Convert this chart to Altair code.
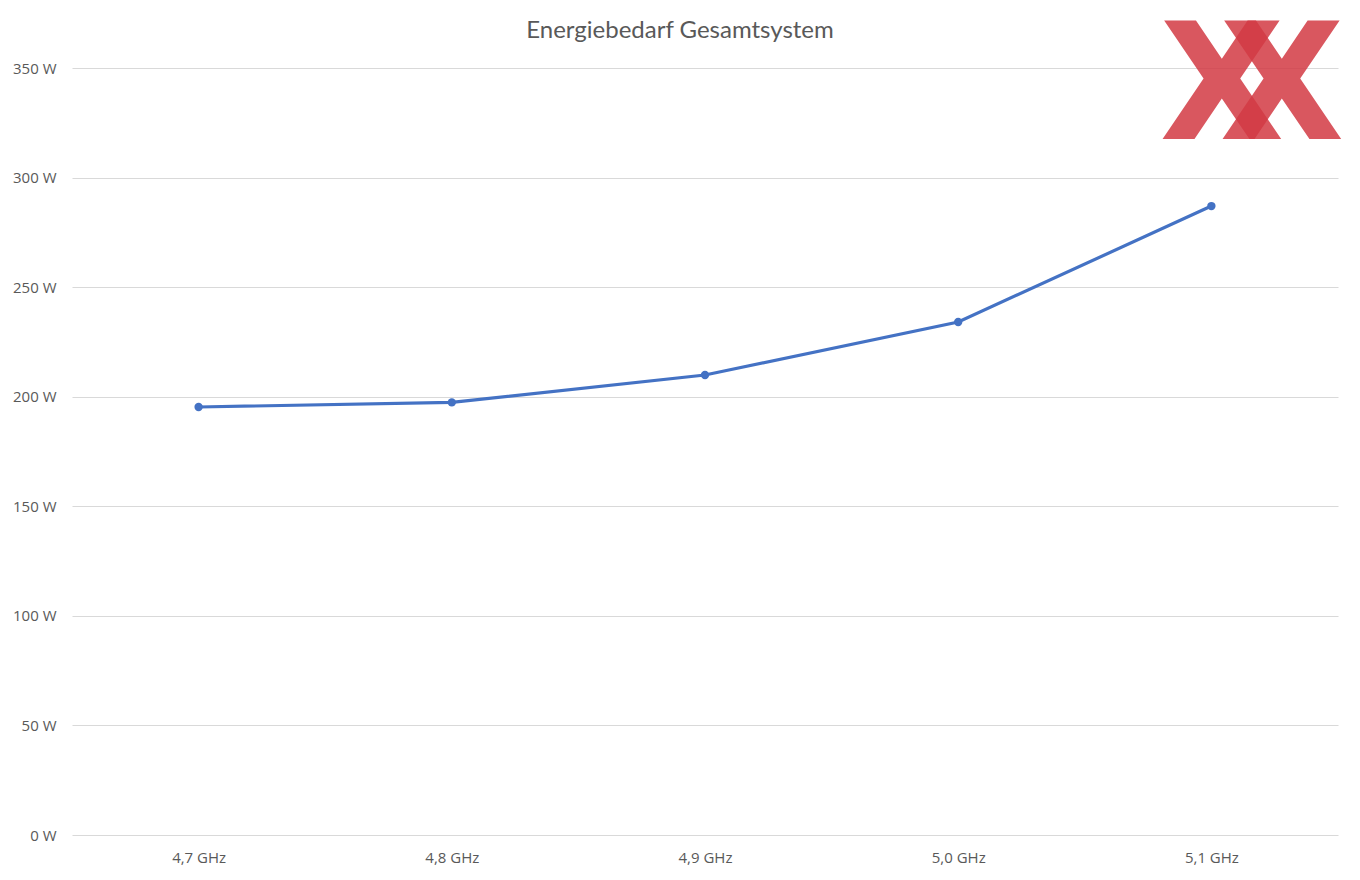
import altair as alt
import pandas as pd

categories = ["4,7 GHz", "4,8 GHz", "4,9 GHz", "5,0 GHz", "5,1 GHz"]
values = [195.3, 197.4, 209.9, 234.1, 287.0]
y_ticks = [0, 50, 100, 150, 200, 250, 300, 350]
title_text = "Energiebedarf Gesamtsystem"

df = pd.DataFrame({"takt": categories, "watt": values})

x = alt.X("takt:N", sort=categories, title=None,
          scale=alt.Scale(type="point", padding=0.5),
          axis=alt.Axis(labelAngle=0, domain=False, ticks=False, grid=False,
                        labelPadding=15, labelFontSize=15, labelColor="#595959",
                        labelFont="Open Sans"))
y = alt.Y("watt:Q", title=None,
          scale=alt.Scale(domain=[0, 350], nice=False),
          axis=alt.Axis(values=y_ticks, labelExpr="datum.value + ' W'", domain=False,
                        ticks=False, grid=True, gridColor="#d9d9d9", gridWidth=1.2,
                        labelPadding=16, labelFontSize=15, labelColor="#595959",
                        labelFont="Open Sans"))

line = alt.Chart(df).mark_line(color="#4472C4", strokeWidth=3.2).encode(x=x, y=y)
pts = alt.Chart(df).mark_point(color="#4472C4", filled=True, size=70, opacity=1).encode(x=x, y=y)

title = alt.Chart(pd.DataFrame({"t": [title_text]})).mark_text(
    font="Lato", fontSize=24, color="#595959", align="center", baseline="alphabetic"
).encode(text="t:N", x=alt.value(608), y=alt.value(-30))

def logo_x(px):
    return alt.Chart(pd.DataFrame({"t": ["X"]})).mark_text(
        font="DejaVu Sans", fontWeight="bold", fontSize=162, color="#d33a44",
        opacity=0.85, align="center", baseline="alphabetic"
    ).encode(text="t:N", x=alt.value(px), y=alt.value(71))

chart = alt.layer(line, pts, title, logo_x(1150), logo_x(1210)).properties(
    width=1266, height=767,
    background="white",
    autosize=alt.AutoSizeParams(type="none"),
    padding={"left": 64, "top": 60, "right": 14, "bottom": 37},
).configure_view(strokeWidth=0, stroke="transparent")

chart.save("out.html", embed_options={"renderer": "svg", "actions": False})
